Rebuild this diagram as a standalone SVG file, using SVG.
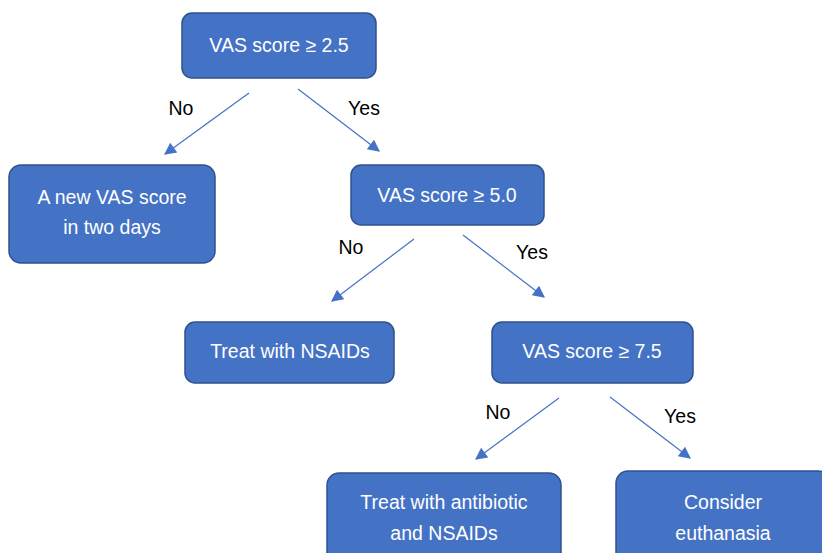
<svg xmlns="http://www.w3.org/2000/svg" width="822" height="553" viewBox="0 0 822 553">
<style>
.box{fill:#4472C4;stroke:#2F528F;stroke-width:1.5}
.t{font-family:"Liberation Sans",Arial,sans-serif;font-size:19.5px;fill:#FFFFFF;text-anchor:middle}
.l{font-family:"Liberation Sans",Arial,sans-serif;font-size:19.5px;fill:#000000;text-anchor:middle}
.c{stroke:#4472C4;stroke-width:1.2;fill:none;marker-end:url(#ah)}
</style>
<defs>
<marker id="ah" viewBox="0 0 10 10" refX="9" refY="5" markerWidth="14" markerHeight="12" markerUnits="userSpaceOnUse" orient="auto">
<path d="M0,0 L10,5 L0,10 Z" fill="#4472C4"/>
</marker>
</defs>
<rect width="822" height="553" fill="#FFFFFF"/>
<g id="connectors">
<line class="c" x1="249" y1="93" x2="165" y2="154"/>
<line class="c" x1="298" y1="89" x2="379" y2="151"/>
<line class="c" x1="414" y1="239" x2="332" y2="301"/>
<line class="c" x1="463" y1="235" x2="544" y2="297"/>
<line class="c" x1="559" y1="398" x2="476" y2="459"/>
<line class="c" x1="610" y1="397" x2="690" y2="458"/>
<text class="l" x="181" y="115">No</text>
<text class="l" x="364" y="115">Yes</text>
<text class="l" x="351" y="254">No</text>
<text class="l" x="532" y="259">Yes</text>
<text class="l" x="498" y="419">No</text>
<text class="l" x="680" y="423">Yes</text>
</g>
<g id="n1">
<rect class="box" x="182" y="13" width="194" height="65" rx="10"/>
<text class="t" x="279" y="52">VAS score ≥ 2.5</text>
</g>
<g id="n2">
<rect class="box" x="9" y="165" width="206" height="98" rx="12"/>
<text class="t" x="112" y="204">A new VAS score</text>
<text class="t" x="112" y="234">in two days</text>
</g>
<g id="n3">
<rect class="box" x="351" y="165" width="193" height="60" rx="10"/>
<text class="t" x="447" y="202">VAS score ≥ 5.0</text>
</g>
<g id="n4">
<rect class="box" x="185" y="322" width="209" height="61" rx="10"/>
<text class="t" x="290" y="358">Treat with NSAIDs</text>
</g>
<g id="n5">
<rect class="box" x="492" y="322" width="201" height="61" rx="10"/>
<text class="t" x="592" y="358">VAS score ≥ 7.5</text>
</g>
<g id="n6">
<rect class="box" x="327" y="473" width="234" height="100" rx="12"/>
<text class="t" x="444" y="509">Treat with antibiotic</text>
<text class="t" x="444" y="540">and NSAIDs</text>
</g>
<g id="n7">
<rect class="box" x="616" y="471" width="214" height="102" rx="12"/>
<text class="t" x="723" y="509">Consider</text>
<text class="t" x="723" y="540">euthanasia</text>
</g>
</svg>
